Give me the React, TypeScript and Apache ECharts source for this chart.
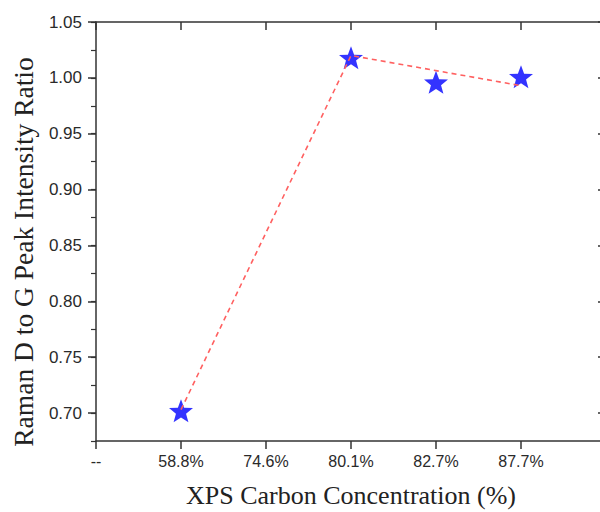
import React, { useEffect, useRef } from "react";
import * as echarts from "echarts";

const categories = ["--", "58.8%", "74.6%", "80.1%", "82.7%", "87.7%", ""];
const ratioValues = [null, 0.702, null, 1.018, 0.996, 1.001, null];
const trendValues = [null, 0.703, null, 1.02, null, 0.993, null];
const majorTicks = [0.7, 0.75, 0.8, 0.85, 0.9, 0.95, 1.0, 1.05];
const xTitle = "XPS Carbon Concentration (%)";
const yTitle = "Raman D to G Peak Intensity Ratio";

const STAR =
  "path://M50 0 L62.34 33.01 L97.55 34.55 L69.97 56.49 L79.39 90.45 L50 71 L20.61 90.45 L30.03 56.49 L2.45 34.55 L37.66 33.01 Z";

const AXIS_COLOR = "#333";
const LABEL_FONT = "'Liberation Sans', Arial, sans-serif";
const TITLE_FONT = "'Liberation Serif', 'Times New Roman', serif";

export default function App() {
  const ref = useRef<HTMLDivElement>(null);
  useEffect(() => {
    if (!ref.current) return;
    const chart = echarts.init(ref.current, null, { renderer: "svg" });
    const axisLine = { show: true, lineStyle: { color: AXIS_COLOR, width: 1.5 } };
    chart.setOption({
      animation: false,
      backgroundColor: "#ffffff",
      grid: {
        left: 96,
        top: 22,
        width: 510,
        height: 419,
        containLabel: false,
        outerBoundsMode: "none",
      },
      xAxis: [
        {
          type: "category",
          data: categories,
          position: "bottom",
          boundaryGap: false,
          axisLine,
          axisTick: { show: true, inside: false, length: 8, interval: 0, lineStyle: { color: AXIS_COLOR, width: 1.5 } },
          axisLabel: {
            interval: 0,
            margin: 12,
            color: "#2a2a2a",
            fontSize: 16,
            fontFamily: LABEL_FONT,
          },
          splitLine: { show: false },
          name: xTitle,
          nameLocation: "middle",
          nameGap: 54,
          nameTextStyle: {
            fontSize: 26,
            fontFamily: TITLE_FONT,
            color: "#222",
            verticalAlign: "middle",
          },
        },
        {
          type: "category",
          data: categories,
          position: "top",
          boundaryGap: false,
          axisLine,
          axisTick: { show: true, inside: true, length: 8, interval: 0, lineStyle: { color: AXIS_COLOR, width: 1.5 } },
          axisLabel: { show: false },
          splitLine: { show: false },
        },
      ],
      yAxis: [
        {
          type: "value",
          position: "left",
          min: 0.675,
          max: 1.05,
          axisLine,
          axisTick: {
            show: true,
            inside: false,
            length: 8,
            customValues: majorTicks,
            lineStyle: { color: AXIS_COLOR, width: 1.5 },
          },
          axisLabel: {
            customValues: majorTicks,
            margin: 14,
            color: "#2a2a2a",
            fontSize: 17,
            fontFamily: LABEL_FONT,
            formatter: (v: number) => v.toFixed(2),
          },
          splitLine: { show: false },
        },
        {
          type: "value",
          position: "right",
          min: 0.675,
          max: 1.05,
          axisLine,
          axisTick: {
            show: true,
            inside: true,
            length: 8,
            customValues: majorTicks,
            lineStyle: { color: AXIS_COLOR, width: 1.5 },
          },
          axisLabel: { show: false },
          splitLine: { show: false },
        },
        {
          type: "value",
          position: "left",
          min: 0.675,
          max: 1.05,
          interval: 0.025,
          axisLine: { show: false },
          axisTick: { show: true, inside: false, length: 5, lineStyle: { color: AXIS_COLOR, width: 1.2 } },
          axisLabel: { show: false },
          splitLine: { show: false },
        },
        {
          type: "value",
          position: "right",
          min: 0.675,
          max: 1.05,
          interval: 0.025,
          axisLine: { show: false },
          axisTick: { show: true, inside: true, length: 5, lineStyle: { color: AXIS_COLOR, width: 1.2 } },
          axisLabel: { show: false },
          splitLine: { show: false },
        },
      ],
      graphic: [
        {
          type: "text",
          x: 23,
          y: 252,
          rotation: Math.PI / 2,
          style: {
            text: yTitle,
            fontSize: 27.5,
            fontFamily: TITLE_FONT,
            fill: "#222",
            align: "center",
            verticalAlign: "middle",
          },
        },
      ],
      series: [
        {
          type: "scatter",
          xAxisIndex: 0,
          yAxisIndex: 0,
          data: ratioValues,
          symbol: STAR,
          symbolSize: [24, 23],
          itemStyle: { color: "#0000ff" },
          z: 2,
        },
        {
          type: "line",
          xAxisIndex: 0,
          yAxisIndex: 0,
          data: trendValues,
          connectNulls: true,
          showSymbol: false,
          symbol: "none",
          lineStyle: { color: "#ff6060", width: 1.6, type: [5, 4] },
          z: 3,
        },
      ],
    });
    return () => chart.dispose();
  }, []);
  return (
    <div
      ref={ref}
      style={{ position: "fixed", left: 0, top: 0, width: 600, height: 512 }}
    />
  );
}
